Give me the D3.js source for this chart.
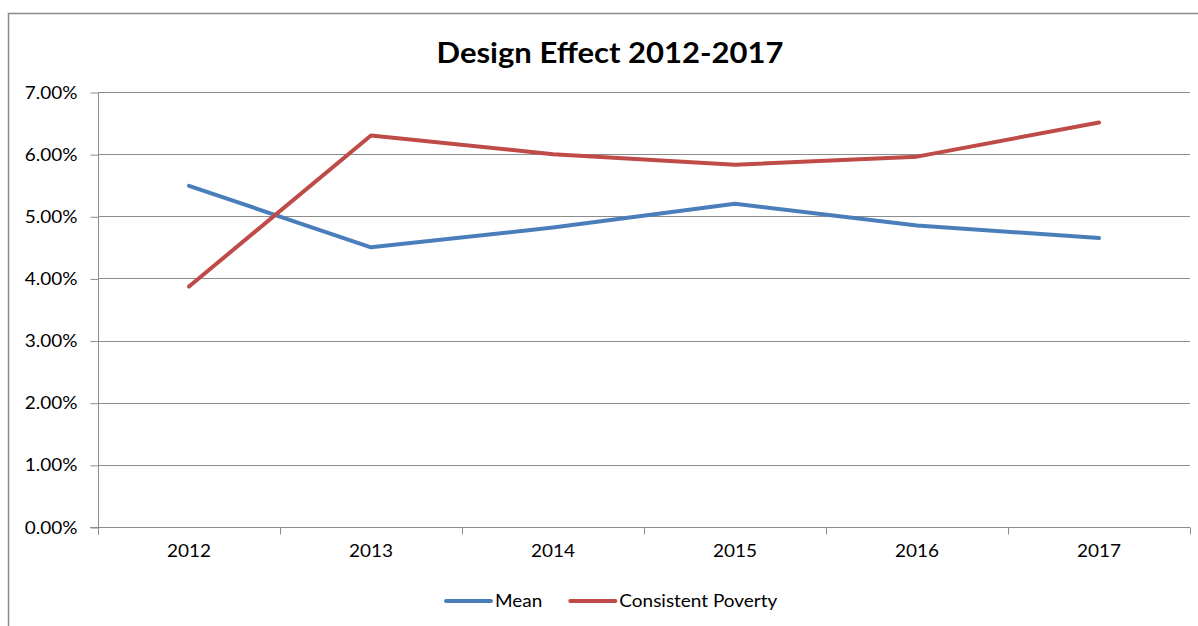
<!DOCTYPE html>
<html>
<head>
<meta charset="utf-8">
<script src="https://cdn.jsdelivr.net/npm/d3@7"></script>
<style>
  html, body { margin: 0; padding: 0; background: #fff; }
  svg { display: block; }
  text { font-family: Lato, "Open Sans", sans-serif; fill: #000; }
</style>
</head>
<body>
<svg id="chart" width="1198" height="626"></svg>
<script>
// Chart data
const years = ["2012", "2013", "2014", "2015", "2016", "2017"];
const meanValues = [0.0549, 0.0450, 0.0482, 0.0520, 0.0485, 0.0465];
const povertyValues = [0.0387, 0.0630, 0.0600, 0.0583, 0.0596, 0.0651];
const yTicks = [0, 0.01, 0.02, 0.03, 0.04, 0.05, 0.06, 0.07];
const seriesNames = ["Mean", "Consistent Poverty"];
const seriesColors = ["#4a7ebb", "#be4b48"];
const title = "Design Effect 2012-2017";

const svg = d3.select("#chart");
const plot = { left: 98, right: 1190, top: 92, bottom: 527 };
const gridColor = "#8c8c8c";
const labelSize = 16.5;
const labelStretch = 1.15;

// Widen a text element horizontally around its anchor point
function stretch(sel, ax, ay, s) {
  sel.attr("x", 0).attr("y", 0)
    .attr("transform", `translate(${ax},${ay}) scale(${s},1)`);
}

// Outer chart frame (continues past the right and bottom edges)
svg.append("rect")
  .attr("x", 8.5).attr("y", 13.5)
  .attr("width", 1400).attr("height", 800)
  .attr("fill", "none").attr("stroke", "#8a8a8a").attr("stroke-width", 1.5);

const x = d3.scaleBand().domain(years).range([plot.left, plot.right]).padding(0);
const y = d3.scaleLinear().domain([0, 0.07]).range([plot.bottom, plot.top]);

// Horizontal gridlines
svg.append("g")
  .selectAll("line").data(yTicks.slice(1)).join("line")
  .attr("x1", plot.left).attr("x2", plot.right)
  .attr("y1", d => Math.round(y(d)) + 0.5).attr("y2", d => Math.round(y(d)) + 0.5)
  .attr("stroke", gridColor).attr("stroke-width", 1);

// Y axis
const yAxis = d3.axisLeft(y).tickValues(yTicks)
  .tickFormat(d3.format(".2%")).tickSize(8).tickPadding(13);
const gy = svg.append("g")
  .attr("transform", `translate(${plot.left + 0.5},0.5)`)
  .call(yAxis);
gy.select(".domain").attr("stroke", gridColor).attr("d", `M0,${plot.top}V${plot.bottom + 7}`);
gy.selectAll(".tick line").attr("stroke", gridColor);
gy.selectAll(".tick text")
  .attr("font-size", labelSize).attr("font-family", "Lato").attr("fill", "#000")
  .attr("dy", "0.34em")
  .each(function () { stretch(d3.select(this), -21, 0, labelStretch); });

// X axis with ticks at category boundaries
const gx = svg.append("g").attr("transform", `translate(0,${plot.bottom + 0.5})`);
gx.append("line")
  .attr("x1", plot.left - 8).attr("x2", plot.right)
  .attr("stroke", gridColor);
const boundaries = years.map(d => x(d)).concat([x(years[years.length - 1]) + x.bandwidth()]);
gx.selectAll("line.tick").data(boundaries).join("line")
  .attr("class", "tick")
  .attr("x1", d => Math.round(d) + 0.5).attr("x2", d => Math.round(d) + 0.5)
  .attr("y1", 0).attr("y2", 7)
  .attr("stroke", gridColor);
gx.selectAll("text").data(years).join("text")
  .attr("text-anchor", "middle")
  .attr("font-size", labelSize)
  .text(d => d)
  .each(function (d) { stretch(d3.select(this), x(d) + x.bandwidth() / 2, 29, labelStretch); });

// Series lines
const line = d3.line()
  .x((d, i) => x(years[i]) + x.bandwidth() / 2)
  .y(d => y(d));

[meanValues, povertyValues].forEach((vals, k) => {
  svg.append("path")
    .datum(vals)
    .attr("d", line)
    .attr("fill", "none")
    .attr("stroke", seriesColors[k])
    .attr("stroke-width", 4)
    .attr("stroke-linejoin", "round")
    .attr("stroke-linecap", "round");
});

// Title
svg.append("text")
  .attr("text-anchor", "middle")
  .attr("font-size", 29)
  .attr("font-weight", "bold")
  .text(title)
  .call(stretch, 610, 63, 1.07);

// Legend
const legend = svg.append("g").attr("transform", "translate(446,601)");
let cursor = 0;
seriesNames.forEach((name, k) => {
  const item = legend.append("g").attr("transform", `translate(${cursor},0)`);
  item.append("line")
    .attr("x1", 0).attr("x2", 45).attr("y1", 0).attr("y2", 0)
    .attr("stroke", seriesColors[k]).attr("stroke-width", 4)
    .attr("stroke-linecap", "round");
  const t = item.append("text")
    .attr("font-size", labelSize)
    .text(name)
    .call(stretch, 49, 6, labelStretch);
  cursor += 49 + t.node().getComputedTextLength() * labelStretch + 28;
});
</script>
</body>
</html>
